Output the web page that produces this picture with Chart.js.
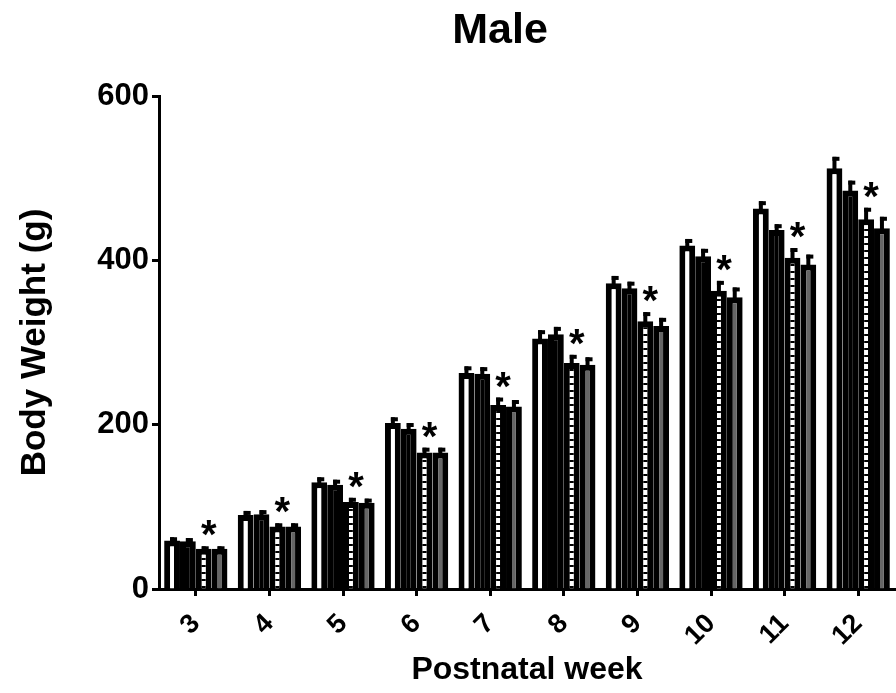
<!DOCTYPE html>
<html>
<head>
<meta charset="utf-8">
<script src="https://cdn.jsdelivr.net/npm/chart.js@4.4.1/dist/chart.umd.min.js"></script>
<style>
  html, body { margin: 0; padding: 0; background: #fff; }
</style>
</head>
<body>
<canvas id="chart" width="896" height="693"></canvas>
<script>
const weeks = ["3", "4", "5", "6", "7", "8", "9", "10", "11", "12"];

// body weight means (g), four groups
const groupA = [59, 90, 130, 202, 263, 305, 372, 418, 463, 512];
const groupB = [58, 91, 127, 195, 262, 310, 366, 405, 437, 485];
const groupC = [49, 76, 106, 166, 224, 275, 326, 363, 403, 450];
const groupD = [49, 76, 105, 166, 222, 273, 320, 355, 395, 439];

// error bars (SEM, upward only)
const errA = [4, 5, 6, 7, 8, 10, 9, 8, 9, 14];
const errB = [4, 5, 6, 7, 8, 9, 8, 9, 7, 12];
const errC = [3, 4, 5, 6, 9, 10, 11, 12, 12, 14];
const errD = [3, 4, 5, 6, 8, 9, 10, 12, 12, 14];

// weeks with * over group C
const starWeeks = ["3", "4", "5", "6", "7", "8", "9", "10", "11", "12"];

const yTicks = [0, 200, 400, 600];

const FONT = "'Liberation Sans', Arial, sans-serif";
const canvas = document.getElementById("chart");
const ctx = canvas.getContext("2d");

// white dashes for group C
const tile = document.createElement("canvas");
tile.width = 8;
tile.height = 7;
const tctx = tile.getContext("2d");
tctx.fillStyle = "#000";
tctx.fillRect(0, 0, 8, 7);
tctx.fillStyle = "#fff";
tctx.fillRect(0, 0, 8, 5);
const dashFill = ctx.createPattern(tile, "repeat");

const errorBars = {
  id: "errorBars",
  afterDatasetsDraw(chart) {
    const c = chart.ctx;
    const y = chart.scales.y;
    c.save();
    c.fillStyle = "#000";
    chart.data.datasets.forEach((ds, i) => {
      const meta = chart.getDatasetMeta(i);
      meta.data.forEach((bar, j) => {
        const top = y.getPixelForValue(ds.data[j] + ds.errors[j]);
        c.fillRect(bar.x - 2, top, 4, bar.y - top + 2);
        c.fillRect(bar.x - 2, top, 7, 4);
      });
    });
    // asterisks over group C
    const metaC = chart.getDatasetMeta(2);
    const dsC = chart.data.datasets[2];
    c.font = "bold 40px " + FONT;
    c.textAlign = "center";
    c.textBaseline = "alphabetic";
    starWeeks.forEach(w => {
      const j = weeks.indexOf(w);
      const bar = metaC.data[j];
      const top = y.getPixelForValue(dsC.data[j] + dsC.errors[j]);
      c.fillText("*", bar.x + 5, top + 2);
    });
    c.restore();
  },
  afterDraw(chart) {
    const c = chart.ctx;
    c.save();
    c.fillStyle = "#000";
    c.font = "bold 43px " + FONT;
    c.textAlign = "center";
    c.textBaseline = "middle";
    c.fillText("Male", 500, 31);
    c.restore();
  }
};

const barStyle = {
  borderColor: "#000",
  borderWidth: 6,
  borderSkipped: "bottom",
  barPercentage: 1.0,
  categoryPercentage: 0.86
};

new Chart(ctx, {
  type: "bar",
  data: {
    labels: weeks,
    datasets: [
      { label: "Group A", data: groupA, errors: errA, backgroundColor: "#fff", ...barStyle },
      { label: "Group B", data: groupB, errors: errB, backgroundColor: "#000", ...barStyle },
      { label: "Group C", data: groupC, errors: errC, backgroundColor: dashFill, ...barStyle },
      { label: "Group D", data: groupD, errors: errD, backgroundColor: "#666", ...barStyle }
    ]
  },
  options: {
    responsive: false,
    animation: false,
    devicePixelRatio: 1,
    layout: { padding: { top: 96, right: 1, left: 0, bottom: 0 } },
    plugins: {
      legend: { display: false },
      tooltip: { enabled: false }
    },
    scales: {
      x: {
        afterFit(scale) { scale.height = 104; },
        grid: {
          display: true,
          drawOnChartArea: false,
          offset: false,
          tickLength: 7,
          tickWidth: 3,
          tickColor: "#000"
        },
        border: { display: true, color: "#000", width: 3 },
        ticks: {
          color: "#000",
          font: { family: FONT, size: 27, weight: "bold" },
          minRotation: 45,
          maxRotation: 45,
          padding: 12
        },
        title: {
          display: true,
          text: "Postnatal week",
          color: "#000",
          font: { family: FONT, size: 32, weight: "bold" },
          padding: { top: 0, bottom: 4 }
        }
      },
      y: {
        min: 0,
        max: 600,
        afterFit(scale) { scale.width = 159; },
        afterBuildTicks(scale) { scale.ticks = yTicks.map(v => ({ value: v })); },
        grid: {
          display: true,
          drawOnChartArea: false,
          tickLength: 7,
          tickWidth: 3,
          tickColor: "#000"
        },
        border: { display: true, color: "#000", width: 3 },
        ticks: {
          color: "#000",
          font: { family: FONT, size: 31, weight: "bold" },
          padding: 3
        },
        title: {
          display: true,
          text: "Body Weight (g)",
          color: "#000",
          font: { family: FONT, size: 35, weight: "bold" },
          padding: { top: 14, bottom: 0 }
        }
      }
    }
  },
  plugins: [errorBars]
});
</script>
</body>
</html>
